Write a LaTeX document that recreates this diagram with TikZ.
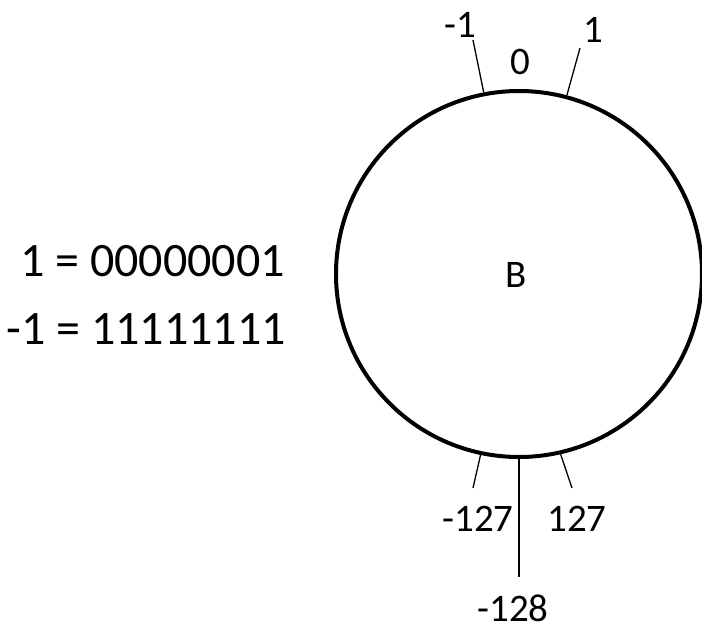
\documentclass[tikz,border=0pt]{standalone}
\usepackage{fontspec}
\setmainfont{Carlito}
\usetikzlibrary{positioning}

\begin{document}
\begin{tikzpicture}[x=1pt, y=-1pt,
    ring/.style={draw, circle, line width=4pt, minimum size=366pt, inner sep=0pt},
    tick/.style={line width=1.3pt},
    lbl/.style={inner sep=0pt, font=\fontsize{39}{44}\selectfont},
    eqn/.style={inner sep=0pt, anchor=east, font=\fontsize{48}{54}\selectfont}]

    \useasboundingbox (0,0) rectangle (702,635);

    \node[ring] (B) at (519,274) {};
    \node[lbl] (Bl) at (516,275) {B};

    % tick ends outside the circle
    \coordinate (em1)  at (473,40);
    \coordinate (ep1)  at (580,48);
    \coordinate (em127) at (473,488);
    \coordinate (ep127) at (572,488);
    \coordinate (em128) at (519,577);

    \draw[tick] (B.101) -- (em1);
    \draw[tick] (B.75)  -- (ep1);
    \draw[tick] (B.258) -- (em127);
    \draw[tick] (B.283) -- (ep127);
    \draw[tick] (B.270) -- (em128);

    \node[lbl] (lm1)   at (460,25)  {-1};
    \node[lbl] (l0)    at (520,62)  {0};
    \node[lbl] (lp1)   at (593,30)  {1};
    \node[lbl] (lm127) at (478,519) {-127};
    \node[lbl] (lp127) at (577,519) {127};
    \node[lbl] (lm128) at (513,608) {-128};

    \node[eqn] (one)  at (285,261) {1 = 00000001};
    \node[eqn] (mone) at (286,329) {-1 = 11111111};
  \end{tikzpicture}
\end{document}
